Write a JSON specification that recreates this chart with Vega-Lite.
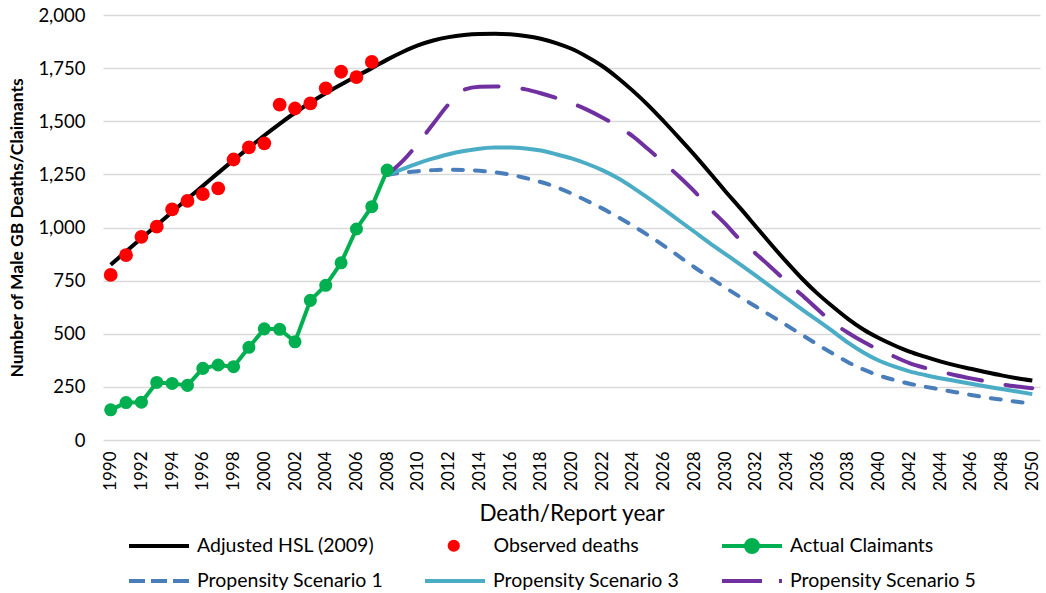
{
  "$schema": "https://vega.github.io/schema/vega-lite/v6.json",
  "width": 937,
  "height": 425,
  "autosize": "none",
  "padding": {"left": 103, "top": 15, "right": 6, "bottom": 153},
  "background": "white",
  "config": {
    "view": {"stroke": null},
    "font": "Lato",
    "legend": {
      "orient": "none",
      "padding": 0,
      "labelFont": "Lato",
      "labelFontSize": 19.5,
      "labelColor": "#000000",
      "labelLimit": 0,
      "symbolStrokeWidth": 4,
      "symbolSize": 3600,
      "symbolType": "stroke",
      "labelOffset": 6
    }
  },
  "datasets": {
    "series": [
      {"series": "Adjusted HSL (2009)", "year": 1990, "value": 825},
      {"series": "Adjusted HSL (2009)", "year": 1991, "value": 887},
      {"series": "Adjusted HSL (2009)", "year": 1992, "value": 949},
      {"series": "Adjusted HSL (2009)", "year": 1993, "value": 1011},
      {"series": "Adjusted HSL (2009)", "year": 1994, "value": 1073},
      {"series": "Adjusted HSL (2009)", "year": 1995, "value": 1135},
      {"series": "Adjusted HSL (2009)", "year": 1996, "value": 1196},
      {"series": "Adjusted HSL (2009)", "year": 1997, "value": 1257},
      {"series": "Adjusted HSL (2009)", "year": 1998, "value": 1317},
      {"series": "Adjusted HSL (2009)", "year": 1999, "value": 1375},
      {"series": "Adjusted HSL (2009)", "year": 2000, "value": 1433},
      {"series": "Adjusted HSL (2009)", "year": 2001, "value": 1488},
      {"series": "Adjusted HSL (2009)", "year": 2002, "value": 1540},
      {"series": "Adjusted HSL (2009)", "year": 2003, "value": 1588},
      {"series": "Adjusted HSL (2009)", "year": 2004, "value": 1632},
      {"series": "Adjusted HSL (2009)", "year": 2005, "value": 1673},
      {"series": "Adjusted HSL (2009)", "year": 2006, "value": 1712},
      {"series": "Adjusted HSL (2009)", "year": 2007, "value": 1750},
      {"series": "Adjusted HSL (2009)", "year": 2008, "value": 1790},
      {"series": "Adjusted HSL (2009)", "year": 2009, "value": 1826},
      {"series": "Adjusted HSL (2009)", "year": 2010, "value": 1857},
      {"series": "Adjusted HSL (2009)", "year": 2011, "value": 1880},
      {"series": "Adjusted HSL (2009)", "year": 2012, "value": 1896},
      {"series": "Adjusted HSL (2009)", "year": 2013, "value": 1906},
      {"series": "Adjusted HSL (2009)", "year": 2014, "value": 1911},
      {"series": "Adjusted HSL (2009)", "year": 2015, "value": 1912},
      {"series": "Adjusted HSL (2009)", "year": 2016, "value": 1909},
      {"series": "Adjusted HSL (2009)", "year": 2017, "value": 1901},
      {"series": "Adjusted HSL (2009)", "year": 2018, "value": 1888},
      {"series": "Adjusted HSL (2009)", "year": 2019, "value": 1868},
      {"series": "Adjusted HSL (2009)", "year": 2020, "value": 1841},
      {"series": "Adjusted HSL (2009)", "year": 2021, "value": 1804},
      {"series": "Adjusted HSL (2009)", "year": 2022, "value": 1760},
      {"series": "Adjusted HSL (2009)", "year": 2023, "value": 1705},
      {"series": "Adjusted HSL (2009)", "year": 2024, "value": 1643},
      {"series": "Adjusted HSL (2009)", "year": 2025, "value": 1575},
      {"series": "Adjusted HSL (2009)", "year": 2026, "value": 1500},
      {"series": "Adjusted HSL (2009)", "year": 2027, "value": 1422},
      {"series": "Adjusted HSL (2009)", "year": 2028, "value": 1342},
      {"series": "Adjusted HSL (2009)", "year": 2029, "value": 1258},
      {"series": "Adjusted HSL (2009)", "year": 2030, "value": 1172},
      {"series": "Adjusted HSL (2009)", "year": 2031, "value": 1090},
      {"series": "Adjusted HSL (2009)", "year": 2032, "value": 1005},
      {"series": "Adjusted HSL (2009)", "year": 2033, "value": 920},
      {"series": "Adjusted HSL (2009)", "year": 2034, "value": 838},
      {"series": "Adjusted HSL (2009)", "year": 2035, "value": 760},
      {"series": "Adjusted HSL (2009)", "year": 2036, "value": 690},
      {"series": "Adjusted HSL (2009)", "year": 2037, "value": 628},
      {"series": "Adjusted HSL (2009)", "year": 2038, "value": 570},
      {"series": "Adjusted HSL (2009)", "year": 2039, "value": 520},
      {"series": "Adjusted HSL (2009)", "year": 2040, "value": 480},
      {"series": "Adjusted HSL (2009)", "year": 2041, "value": 446},
      {"series": "Adjusted HSL (2009)", "year": 2042, "value": 416},
      {"series": "Adjusted HSL (2009)", "year": 2043, "value": 392},
      {"series": "Adjusted HSL (2009)", "year": 2044, "value": 370},
      {"series": "Adjusted HSL (2009)", "year": 2045, "value": 351},
      {"series": "Adjusted HSL (2009)", "year": 2046, "value": 335},
      {"series": "Adjusted HSL (2009)", "year": 2047, "value": 319},
      {"series": "Adjusted HSL (2009)", "year": 2048, "value": 304},
      {"series": "Adjusted HSL (2009)", "year": 2049, "value": 291},
      {"series": "Adjusted HSL (2009)", "year": 2050, "value": 280},

      {"series": "Propensity Scenario 1", "year": 2008, "value": 1248},
      {"series": "Propensity Scenario 1", "year": 2009, "value": 1258},
      {"series": "Propensity Scenario 1", "year": 2010, "value": 1265},
      {"series": "Propensity Scenario 1", "year": 2011, "value": 1270},
      {"series": "Propensity Scenario 1", "year": 2012, "value": 1272},
      {"series": "Propensity Scenario 1", "year": 2013, "value": 1271},
      {"series": "Propensity Scenario 1", "year": 2014, "value": 1267},
      {"series": "Propensity Scenario 1", "year": 2015, "value": 1260},
      {"series": "Propensity Scenario 1", "year": 2016, "value": 1249},
      {"series": "Propensity Scenario 1", "year": 2017, "value": 1233},
      {"series": "Propensity Scenario 1", "year": 2018, "value": 1214},
      {"series": "Propensity Scenario 1", "year": 2019, "value": 1190},
      {"series": "Propensity Scenario 1", "year": 2020, "value": 1160},
      {"series": "Propensity Scenario 1", "year": 2021, "value": 1126},
      {"series": "Propensity Scenario 1", "year": 2022, "value": 1090},
      {"series": "Propensity Scenario 1", "year": 2023, "value": 1050},
      {"series": "Propensity Scenario 1", "year": 2024, "value": 1008},
      {"series": "Propensity Scenario 1", "year": 2025, "value": 963},
      {"series": "Propensity Scenario 1", "year": 2026, "value": 915},
      {"series": "Propensity Scenario 1", "year": 2027, "value": 864},
      {"series": "Propensity Scenario 1", "year": 2028, "value": 813},
      {"series": "Propensity Scenario 1", "year": 2029, "value": 765},
      {"series": "Propensity Scenario 1", "year": 2030, "value": 718},
      {"series": "Propensity Scenario 1", "year": 2031, "value": 672},
      {"series": "Propensity Scenario 1", "year": 2032, "value": 628},
      {"series": "Propensity Scenario 1", "year": 2033, "value": 584},
      {"series": "Propensity Scenario 1", "year": 2034, "value": 540},
      {"series": "Propensity Scenario 1", "year": 2035, "value": 495},
      {"series": "Propensity Scenario 1", "year": 2036, "value": 450},
      {"series": "Propensity Scenario 1", "year": 2037, "value": 407},
      {"series": "Propensity Scenario 1", "year": 2038, "value": 366},
      {"series": "Propensity Scenario 1", "year": 2039, "value": 332},
      {"series": "Propensity Scenario 1", "year": 2040, "value": 304},
      {"series": "Propensity Scenario 1", "year": 2041, "value": 283},
      {"series": "Propensity Scenario 1", "year": 2042, "value": 265},
      {"series": "Propensity Scenario 1", "year": 2043, "value": 251},
      {"series": "Propensity Scenario 1", "year": 2044, "value": 238},
      {"series": "Propensity Scenario 1", "year": 2045, "value": 225},
      {"series": "Propensity Scenario 1", "year": 2046, "value": 212},
      {"series": "Propensity Scenario 1", "year": 2047, "value": 200},
      {"series": "Propensity Scenario 1", "year": 2048, "value": 190},
      {"series": "Propensity Scenario 1", "year": 2049, "value": 180},
      {"series": "Propensity Scenario 1", "year": 2050, "value": 170},

      {"series": "Propensity Scenario 3", "year": 2008, "value": 1248},
      {"series": "Propensity Scenario 3", "year": 2009, "value": 1275},
      {"series": "Propensity Scenario 3", "year": 2010, "value": 1302},
      {"series": "Propensity Scenario 3", "year": 2011, "value": 1325},
      {"series": "Propensity Scenario 3", "year": 2012, "value": 1345},
      {"series": "Propensity Scenario 3", "year": 2013, "value": 1360},
      {"series": "Propensity Scenario 3", "year": 2014, "value": 1371},
      {"series": "Propensity Scenario 3", "year": 2015, "value": 1376},
      {"series": "Propensity Scenario 3", "year": 2016, "value": 1377},
      {"series": "Propensity Scenario 3", "year": 2017, "value": 1372},
      {"series": "Propensity Scenario 3", "year": 2018, "value": 1362},
      {"series": "Propensity Scenario 3", "year": 2019, "value": 1345},
      {"series": "Propensity Scenario 3", "year": 2020, "value": 1325},
      {"series": "Propensity Scenario 3", "year": 2021, "value": 1300},
      {"series": "Propensity Scenario 3", "year": 2022, "value": 1270},
      {"series": "Propensity Scenario 3", "year": 2023, "value": 1233},
      {"series": "Propensity Scenario 3", "year": 2024, "value": 1188},
      {"series": "Propensity Scenario 3", "year": 2025, "value": 1138},
      {"series": "Propensity Scenario 3", "year": 2026, "value": 1086},
      {"series": "Propensity Scenario 3", "year": 2027, "value": 1033},
      {"series": "Propensity Scenario 3", "year": 2028, "value": 980},
      {"series": "Propensity Scenario 3", "year": 2029, "value": 927},
      {"series": "Propensity Scenario 3", "year": 2030, "value": 876},
      {"series": "Propensity Scenario 3", "year": 2031, "value": 825},
      {"series": "Propensity Scenario 3", "year": 2032, "value": 773},
      {"series": "Propensity Scenario 3", "year": 2033, "value": 720},
      {"series": "Propensity Scenario 3", "year": 2034, "value": 668},
      {"series": "Propensity Scenario 3", "year": 2035, "value": 615},
      {"series": "Propensity Scenario 3", "year": 2036, "value": 564},
      {"series": "Propensity Scenario 3", "year": 2037, "value": 512},
      {"series": "Propensity Scenario 3", "year": 2038, "value": 458},
      {"series": "Propensity Scenario 3", "year": 2039, "value": 412},
      {"series": "Propensity Scenario 3", "year": 2040, "value": 374},
      {"series": "Propensity Scenario 3", "year": 2041, "value": 346},
      {"series": "Propensity Scenario 3", "year": 2042, "value": 323},
      {"series": "Propensity Scenario 3", "year": 2043, "value": 306},
      {"series": "Propensity Scenario 3", "year": 2044, "value": 291},
      {"series": "Propensity Scenario 3", "year": 2045, "value": 278},
      {"series": "Propensity Scenario 3", "year": 2046, "value": 265},
      {"series": "Propensity Scenario 3", "year": 2047, "value": 252},
      {"series": "Propensity Scenario 3", "year": 2048, "value": 240},
      {"series": "Propensity Scenario 3", "year": 2049, "value": 228},
      {"series": "Propensity Scenario 3", "year": 2050, "value": 216},

      {"series": "Propensity Scenario 5", "year": 2008, "value": 1248},
      {"series": "Propensity Scenario 5", "year": 2009, "value": 1312},
      {"series": "Propensity Scenario 5", "year": 2010, "value": 1395},
      {"series": "Propensity Scenario 5", "year": 2011, "value": 1488},
      {"series": "Propensity Scenario 5", "year": 2012, "value": 1580},
      {"series": "Propensity Scenario 5", "year": 2013, "value": 1648},
      {"series": "Propensity Scenario 5", "year": 2014, "value": 1662},
      {"series": "Propensity Scenario 5", "year": 2015, "value": 1664},
      {"series": "Propensity Scenario 5", "year": 2016, "value": 1660},
      {"series": "Propensity Scenario 5", "year": 2017, "value": 1650},
      {"series": "Propensity Scenario 5", "year": 2018, "value": 1632},
      {"series": "Propensity Scenario 5", "year": 2019, "value": 1610},
      {"series": "Propensity Scenario 5", "year": 2020, "value": 1585},
      {"series": "Propensity Scenario 5", "year": 2021, "value": 1555},
      {"series": "Propensity Scenario 5", "year": 2022, "value": 1518},
      {"series": "Propensity Scenario 5", "year": 2023, "value": 1477},
      {"series": "Propensity Scenario 5", "year": 2024, "value": 1429},
      {"series": "Propensity Scenario 5", "year": 2025, "value": 1368},
      {"series": "Propensity Scenario 5", "year": 2026, "value": 1305},
      {"series": "Propensity Scenario 5", "year": 2027, "value": 1240},
      {"series": "Propensity Scenario 5", "year": 2028, "value": 1170},
      {"series": "Propensity Scenario 5", "year": 2029, "value": 1090},
      {"series": "Propensity Scenario 5", "year": 2030, "value": 1018},
      {"series": "Propensity Scenario 5", "year": 2031, "value": 940},
      {"series": "Propensity Scenario 5", "year": 2032, "value": 877},
      {"series": "Propensity Scenario 5", "year": 2033, "value": 812},
      {"series": "Propensity Scenario 5", "year": 2034, "value": 745},
      {"series": "Propensity Scenario 5", "year": 2035, "value": 682},
      {"series": "Propensity Scenario 5", "year": 2036, "value": 616},
      {"series": "Propensity Scenario 5", "year": 2037, "value": 553},
      {"series": "Propensity Scenario 5", "year": 2038, "value": 505},
      {"series": "Propensity Scenario 5", "year": 2039, "value": 462},
      {"series": "Propensity Scenario 5", "year": 2040, "value": 425},
      {"series": "Propensity Scenario 5", "year": 2041, "value": 393},
      {"series": "Propensity Scenario 5", "year": 2042, "value": 362},
      {"series": "Propensity Scenario 5", "year": 2043, "value": 340},
      {"series": "Propensity Scenario 5", "year": 2044, "value": 322},
      {"series": "Propensity Scenario 5", "year": 2045, "value": 305},
      {"series": "Propensity Scenario 5", "year": 2046, "value": 290},
      {"series": "Propensity Scenario 5", "year": 2047, "value": 276},
      {"series": "Propensity Scenario 5", "year": 2048, "value": 262},
      {"series": "Propensity Scenario 5", "year": 2049, "value": 252},
      {"series": "Propensity Scenario 5", "year": 2050, "value": 244},

      {"series": "Actual Claimants", "year": 1990, "value": 142},
      {"series": "Actual Claimants", "year": 1991, "value": 176},
      {"series": "Actual Claimants", "year": 1992, "value": 178},
      {"series": "Actual Claimants", "year": 1993, "value": 271},
      {"series": "Actual Claimants", "year": 1994, "value": 266},
      {"series": "Actual Claimants", "year": 1995, "value": 257},
      {"series": "Actual Claimants", "year": 1996, "value": 337},
      {"series": "Actual Claimants", "year": 1997, "value": 353},
      {"series": "Actual Claimants", "year": 1998, "value": 345},
      {"series": "Actual Claimants", "year": 1999, "value": 436},
      {"series": "Actual Claimants", "year": 2000, "value": 523},
      {"series": "Actual Claimants", "year": 2001, "value": 521},
      {"series": "Actual Claimants", "year": 2002, "value": 462},
      {"series": "Actual Claimants", "year": 2003, "value": 657},
      {"series": "Actual Claimants", "year": 2004, "value": 728},
      {"series": "Actual Claimants", "year": 2005, "value": 834},
      {"series": "Actual Claimants", "year": 2006, "value": 993},
      {"series": "Actual Claimants", "year": 2007, "value": 1098},
      {"series": "Actual Claimants", "year": 2008, "value": 1270},

      {"series": "Observed deaths", "year": 1990, "value": 777},
      {"series": "Observed deaths", "year": 1991, "value": 870},
      {"series": "Observed deaths", "year": 1992, "value": 956},
      {"series": "Observed deaths", "year": 1993, "value": 1004},
      {"series": "Observed deaths", "year": 1994, "value": 1085},
      {"series": "Observed deaths", "year": 1995, "value": 1125},
      {"series": "Observed deaths", "year": 1996, "value": 1157},
      {"series": "Observed deaths", "year": 1997, "value": 1184},
      {"series": "Observed deaths", "year": 1998, "value": 1320},
      {"series": "Observed deaths", "year": 1999, "value": 1377},
      {"series": "Observed deaths", "year": 2000, "value": 1396},
      {"series": "Observed deaths", "year": 2001, "value": 1578},
      {"series": "Observed deaths", "year": 2002, "value": 1560},
      {"series": "Observed deaths", "year": 2003, "value": 1584},
      {"series": "Observed deaths", "year": 2004, "value": 1655},
      {"series": "Observed deaths", "year": 2005, "value": 1733},
      {"series": "Observed deaths", "year": 2006, "value": 1708},
      {"series": "Observed deaths", "year": 2007, "value": 1779}
    ]
  },
  "data": {"name": "series"},
  "encoding": {
    "x": {
      "field": "year",
      "type": "quantitative",
      "scale": {"domain": [1989.5, 2050.5], "nice": false, "zero": false},
      "axis": {
        "title": "Death/Report year",
        "values": [1990, 1992, 1994, 1996, 1998, 2000, 2002, 2004, 2006, 2008, 2010, 2012, 2014, 2016, 2018, 2020, 2022, 2024, 2026, 2028, 2030, 2032, 2034, 2036, 2038, 2040, 2042, 2044, 2046, 2048, 2050],
        "format": "d",
        "labelAngle": -90,
        "labelFont": "Lato",
        "labelFontSize": 17,
        "labelColor": "#000000",
        "labelPadding": 11,
        "labelFlush": false,
        "labelOverlap": false,
        "grid": false,
        "domain": false,
        "ticks": false,
        "titleFont": "Lato",
        "titleFontSize": 22.5,
        "titleFontWeight": "normal",
        "titleColor": "#000000",
        "titlePadding": 12
      }
    },
    "y": {
      "field": "value",
      "type": "quantitative",
      "scale": {"domain": [0, 2000], "nice": false},
      "axis": {
        "title": "Number of Male GB Deaths/Claimants",
        "values": [0, 250, 500, 750, 1000, 1250, 1500, 1750, 2000],
        "format": ",.0f",
        "labelFont": "Lato",
        "labelFontSize": 18.5,
        "labelColor": "#000000",
        "labelPadding": 18,
        "grid": true,
        "gridColor": "#d9d9d9",
        "gridWidth": 1.3,
        "domain": false,
        "ticks": false,
        "titleFont": "Lato",
        "titleFontSize": 17.5,
        "titleFontWeight": "bold",
        "titleColor": "#000000",
        "titlePadding": 11
      }
    }
  },
  "layer": [
    {
      "transform": [{"filter": "datum.series == 'Adjusted HSL (2009)'"}],
      "mark": {"type": "line", "interpolate": "monotone", "strokeWidth": 4},
      "encoding": {
        "color": {
          "field": "series", "type": "nominal",
          "scale": {"domain": ["Adjusted HSL (2009)"], "range": ["#000000"]},
          "legend": {"title": null, "legendX": 24, "legendY": 499}
        }
      }
    },
    {
      "transform": [{"filter": "datum.series == 'Propensity Scenario 1'"}],
      "mark": {"type": "line", "interpolate": "monotone", "strokeWidth": 4, "strokeCap": "round", "strokeDash": [10, 12]},
      "encoding": {
        "color": {
          "field": "series", "type": "nominal",
          "scale": {"domain": ["Propensity Scenario 1"], "range": ["#4a7ebb"]},
          "legend": {"title": null, "legendX": 24, "legendY": 534, "symbolDash": [16, 6]}
        }
      }
    },
    {
      "transform": [{"filter": "datum.series == 'Propensity Scenario 3'"}],
      "mark": {"type": "line", "interpolate": "monotone", "strokeWidth": 4},
      "encoding": {
        "color": {
          "field": "series", "type": "nominal",
          "scale": {"domain": ["Propensity Scenario 3"], "range": ["#4bacc6"]},
          "legend": {"title": null, "legendX": 320, "legendY": 534}
        }
      }
    },
    {
      "transform": [{"filter": "datum.series == 'Propensity Scenario 5'"}],
      "mark": {"type": "line", "interpolate": "monotone", "strokeWidth": 4, "strokeCap": "round", "strokeDash": [34, 24]},
      "encoding": {
        "color": {
          "field": "series", "type": "nominal",
          "scale": {"domain": ["Propensity Scenario 5"], "range": ["#7030a0"]},
          "legend": {"title": null, "legendX": 617, "legendY": 534, "symbolDash": [40, 17]}
        }
      }
    },
    {
      "transform": [{"filter": "datum.series == 'Actual Claimants'"}],
      "mark": {"type": "line", "strokeWidth": 4, "strokeJoin": "round"},
      "encoding": {
        "color": {
          "field": "series", "type": "nominal",
          "scale": {"domain": ["Actual Claimants"], "range": ["#00b050"]},
          "legend": null
        }
      }
    },
    {
      "transform": [{"filter": "datum.series == 'Actual Claimants'"}],
      "mark": {"type": "point", "filled": true, "opacity": 1, "size": 170},
      "encoding": {
        "color": {
          "field": "series", "type": "nominal",
          "scale": {"domain": ["Actual Claimants"], "range": ["#00b050"]},
          "legend": {
            "title": null, "legendX": 617, "legendY": 499,
            "symbolType": "M-1,0H1M-0.2,0A0.2,0.2 0 1,1 0.2,0A0.2,0.2 0 1,1 -0.2,0Z",
            "symbolFillColor": "#00b050",
            "symbolStrokeColor": "#00b050",
            "symbolOpacity": 1
          }
        }
      }
    },
    {
      "transform": [{"filter": "datum.series == 'Observed deaths'"}],
      "mark": {"type": "point", "filled": true, "opacity": 1, "size": 190},
      "encoding": {
        "color": {
          "field": "series", "type": "nominal",
          "scale": {"domain": ["Observed deaths"], "range": ["#ff0000"]},
          "legend": {
            "title": null, "legendX": 341, "legendY": 521,
            "symbolType": "circle", "symbolSize": 150, "symbolStrokeWidth": 0,
            "symbolOpacity": 1, "labelOffset": 30
          }
        }
      }
    }
  ],
  "resolve": {"scale": {"color": "independent"}, "legend": {"color": "independent"}}
}
